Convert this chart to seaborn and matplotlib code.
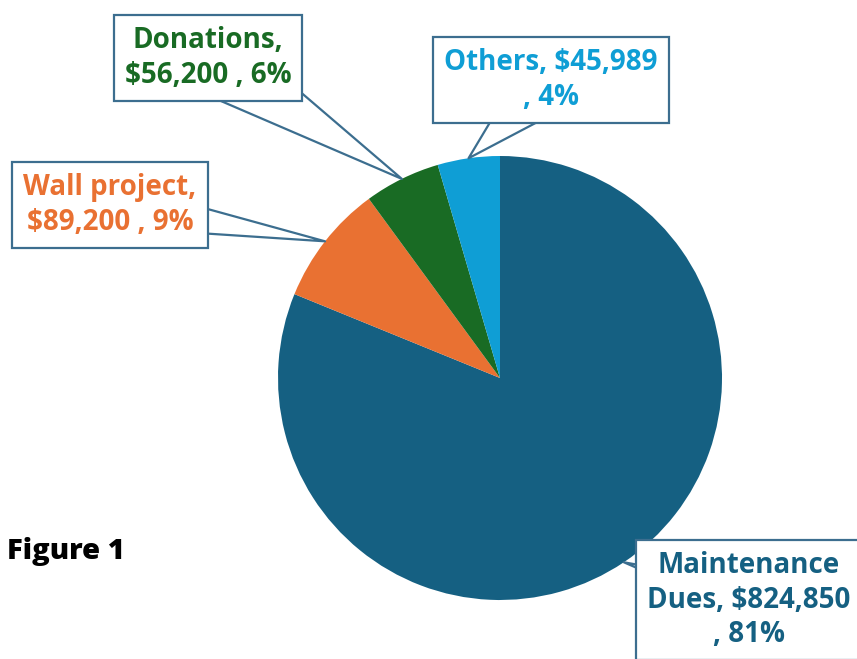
import numpy as np
import matplotlib
matplotlib.use("Agg")
from matplotlib import pyplot as plt
import seaborn as sns

# data
categories = ["Maintenance Dues", "Wall project", "Donations", "Others"]
amounts = [824850, 89200, 56200, 45989]
percents = [81, 9, 6, 4]
label_texts = [
    "Maintenance\nDues, $824,850\n, 81%",
    "Wall project,\n$89,200 , 9%",
    "Donations,\n$56,200 , 6%",
    "Others, $45,989\n, 4%",
]
colors = ["#156082", "#E97132", "#196B24", "#0F9ED5"]

sns.set_theme(style="white")
plt.rcParams["font.family"] = ["Open Sans", "DejaVu Sans"]

fig = plt.figure(figsize=(8.57, 6.59), dpi=100)
ax = fig.add_axes([0, 0, 1, 1])

wedges, _ = ax.pie(amounts, colors=colors, startangle=90, counterclock=False,
                   radius=1, wedgeprops=dict(linewidth=0))

# pie centre at (500, 378) px, radius 222 px
r_px = 222.0
ax.set_xlim(-500 / r_px, 357 / r_px)
ax.set_ylim(-281 / r_px, 378 / r_px)
ax.set_aspect("auto")
ax.axis("off")

# callout boxes (text centres, data units)
box_centers = [(1.12, -1.0), (-1.757, 0.779), (-1.315, 1.441), (0.23, 1.342)]
tails = [1.1, 1.6, 2.5, 2.3]
edge = "#3C6E8F"

for w, txt, col, (bx, by), tw in zip(wedges, label_texts, colors, box_centers, tails):
    ang = np.deg2rad((w.theta1 + w.theta2) / 2)
    tip = (np.cos(ang), np.sin(ang))
    ax.annotate(txt, xy=tip, xytext=(bx, by), ha="center", va="center",
                color=col, fontsize=20, fontweight="bold", linespacing=1.25,
                bbox=dict(boxstyle="square,pad=0.4", fc="white", ec=edge, lw=1.6),
                arrowprops=dict(arrowstyle="wedge,tail_width=%.1f,shrink_factor=0.5" % tw,
                                fc="white", ec=edge, lw=1.6,
                                patchA=None, shrinkA=0, shrinkB=0))

fig.text(0.008, 1 - 551 / 659, "Figure 1", fontsize=21, fontweight="heavy",
         va="center", ha="left", color="black")

fig.savefig("out.png", dpi=100, facecolor="white")
